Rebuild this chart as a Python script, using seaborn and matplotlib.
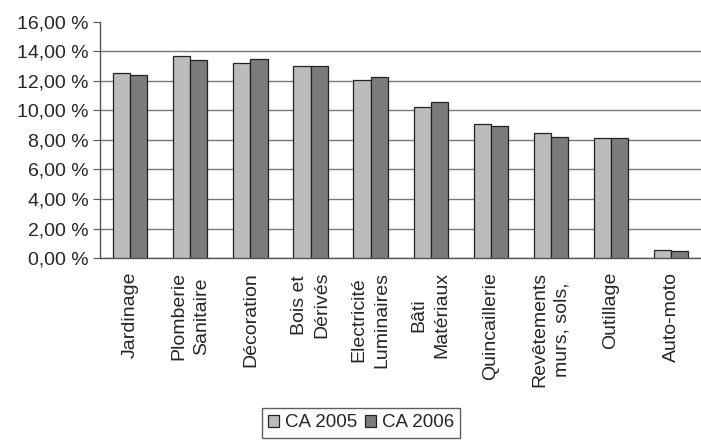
import numpy as np
import pandas as pd
import seaborn as sns
import matplotlib.pyplot as plt
from matplotlib.ticker import FuncFormatter, MultipleLocator, FixedLocator

# Categories (rayons) and share of turnover per year
categories = ["Jardinage", "Plomberie\nSanitaire", "Décoration", "Bois et\nDérivés",
              "Electricité\nLuminaires", "Bâti\nMatériaux", "Quincaillerie",
              "Revêtements\nmurs, sols,", "Outillage", "Auto-moto"]
ca_2005 = [12.54, 13.70, 13.22, 13.00, 12.07, 10.20, 9.06, 8.45, 8.16, 0.56]
ca_2006 = [12.40, 13.40, 13.50, 13.00, 12.27, 10.55, 8.95, 8.22, 8.16, 0.45]
series = ["CA 2005", "CA 2006"]

df = pd.DataFrame({
    "categorie": categories * 2,
    "valeur": ca_2005 + ca_2006,
    "serie": [series[0]] * len(categories) + [series[1]] * len(categories),
})

sns.set_style("white")
plt.rcParams["font.family"] = ["Liberation Sans", "DejaVu Sans"]

fig = plt.figure(figsize=(7.01, 4.45), dpi=100)
ax = fig.add_axes([0.143, 0.42, 0.857, 0.531])

sns.barplot(data=df, x="categorie", y="valeur", hue="serie",
            palette=["#bcbcbc", "#7c7c7c"], width=0.57, edgecolor="#222222",
            linewidth=0.9, saturation=1, ax=ax, zorder=3)

ax.set_ylim(0, 16)
ax.set_xlim(-0.5, len(categories) - 0.5)
ax.yaxis.set_major_locator(MultipleLocator(2))
ax.yaxis.set_major_formatter(FuncFormatter(lambda v, p: f"{v:.2f} %".replace(".", ",")))
ax.grid(axis="y", color="#777777", linewidth=1.0, zorder=0)
ax.set_axisbelow(True)

ax.set_xlabel("")
ax.set_ylabel("")
ax.set_xticks(range(len(categories)))
ax.set_xticklabels(categories, rotation=90, ha="center", va="top",
                   multialignment="center", fontsize=14, linespacing=1.45)
ax.tick_params(axis="x", which="major", length=0, pad=10)
ax.xaxis.set_minor_locator(FixedLocator(np.arange(-0.5, len(categories), 1)))
ax.tick_params(axis="x", which="minor", length=5, color="#555555", direction="out")
ax.tick_params(axis="y", labelsize=14, length=5, color="#555555", direction="out", left=True)

for side in ["top", "right"]:
    ax.spines[side].set_visible(False)
for side in ["left", "bottom"]:
    ax.spines[side].set_color("#555555")
    ax.spines[side].set_linewidth(1.0)

# no gridline at the top value (16 %)
fig.canvas.draw()
for tick in ax.yaxis.get_major_ticks():
    if tick.get_loc() >= 15.9:
        tick.gridline.set_visible(False)

handles, labels = ax.get_legend_handles_labels()
ax.get_legend().remove()
leg = fig.legend(handles, labels, loc="lower center", bbox_to_anchor=(0.515, -0.005),
                 ncol=2, fontsize=13.5, frameon=True, fancybox=False,
                 handlelength=0.6, handleheight=0.6, handletextpad=0.3,
                 columnspacing=0.4, borderpad=0.35)
leg.get_frame().set_edgecolor("#333333")
leg.get_frame().set_linewidth(1.0)

fig.savefig("out.png", dpi=100)
